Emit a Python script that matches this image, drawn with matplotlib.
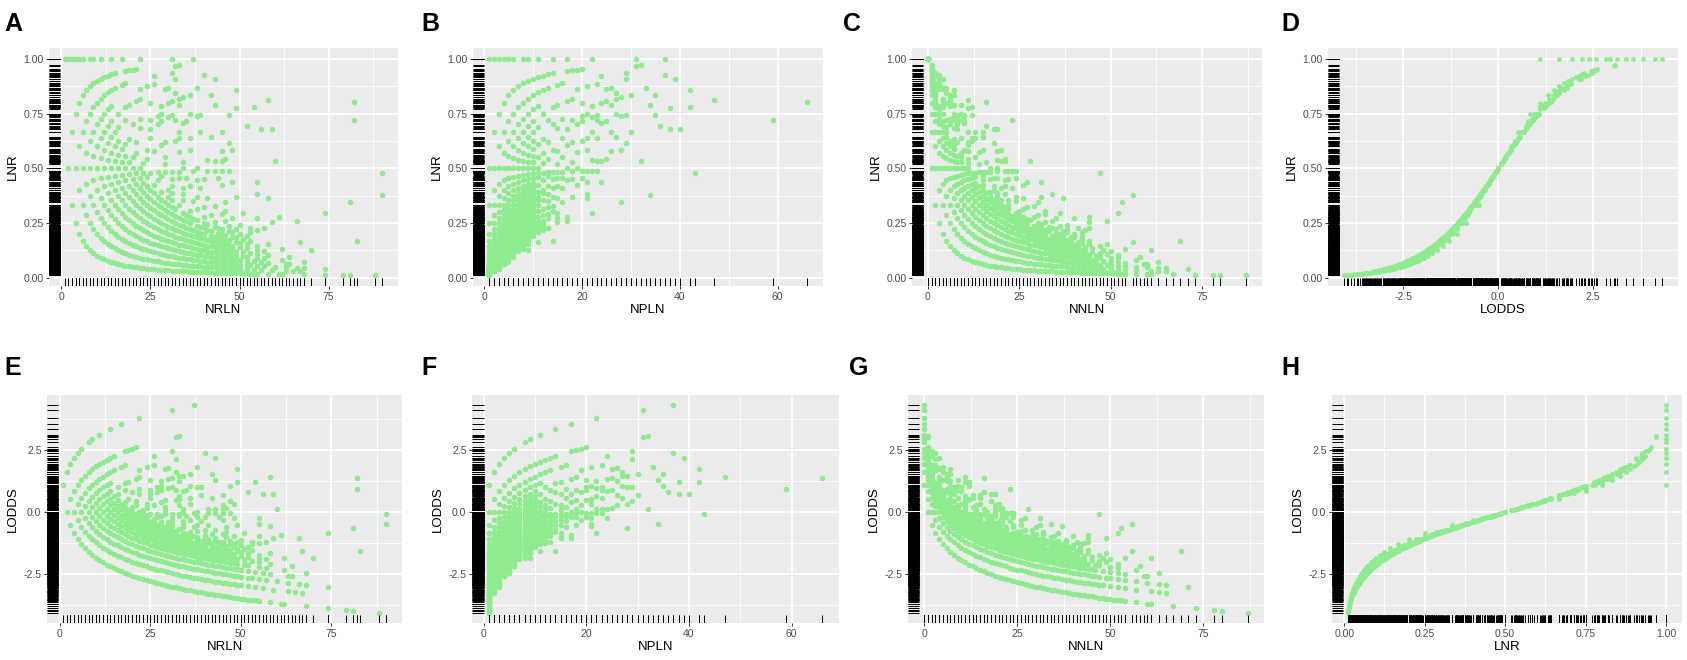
import numpy as np
import matplotlib
matplotlib.use("Agg")
import matplotlib.pyplot as plt
from matplotlib.ticker import FixedLocator, FormatStrFormatter

plt.rcParams['font.family'] = ['Liberation Sans', 'DejaVu Sans']
plt.rcParams['axes.unicode_minus'] = False

# ---------------- data: NRLN values observed for each NPLN value ----------------
NRLN_K01 = [1, 2, 3, 4, 5, 6, 7, 8, 9, 10, 11, 12, 13, 14, 15, 16, 17, 18, 19, 20, 21, 22, 23, 24, 25,
            26, 27, 28, 29, 30, 31, 32, 33, 34, 35, 36, 37, 38, 39, 40, 41, 42, 43, 44, 45, 46, 47, 48,
            49, 50, 51, 52, 53, 54, 55, 58, 61, 62, 68, 74, 79, 81, 88]
NRLN_K02 = [2, 3, 4, 5, 6, 7, 8, 9, 10, 11, 12, 13, 14, 15, 16, 17, 18, 19, 20, 21, 22, 23, 24, 25, 26,
            27, 28, 29, 30, 31, 32, 33, 34, 35, 36, 37, 38, 39, 40, 41, 42, 43, 44, 45, 46, 47, 48, 49,
            50, 52, 54, 56, 59, 63, 65, 67]
NRLN_K03 = [3, 4, 5, 6, 7, 8, 9, 10, 11, 12, 13, 14, 15, 16, 17, 18, 19, 20, 21, 22, 23, 24, 25, 26, 27,
            28, 29, 30, 31, 32, 33, 34, 35, 36, 37, 38, 39, 40, 41, 42, 43, 44, 45, 46, 47, 48, 49, 50,
            52, 53, 55, 57, 60, 63, 66, 68, 74]
NRLN_K04 = [4, 5, 6, 7, 8, 9, 10, 11, 12, 13, 14, 15, 16, 17, 18, 19, 20, 21, 22, 23, 24, 25, 26, 27, 28,
            29, 30, 31, 32, 33, 34, 35, 36, 37, 38, 39, 40, 41, 42, 43, 44, 45, 46, 47, 48, 49, 50, 52,
            54, 56, 58, 63, 64]
NRLN_K05 = [5, 6, 7, 8, 9, 10, 11, 12, 13, 14, 15, 16, 17, 18, 19, 20, 21, 22, 23, 24, 25, 26, 27, 28, 29,
            30, 31, 32, 33, 34, 35, 36, 37, 38, 39, 40, 41, 42, 43, 44, 45, 46, 47, 48, 49, 51, 52, 55,
            57, 62, 68]
NRLN_K06 = [6, 7, 8, 9, 10, 11, 12, 13, 14, 15, 16, 17, 18, 19, 20, 21, 22, 23, 24, 25, 26, 27, 28, 29, 30,
            31, 32, 33, 34, 35, 36, 37, 38, 39, 40, 41, 42, 43, 44, 45, 46, 47, 48, 49, 51, 53, 55, 58, 64]
NRLN_K07 = [8, 9, 10, 11, 12, 13, 14, 15, 16, 17, 18, 19, 20, 21, 22, 23, 24, 25, 26, 27, 28, 29, 30, 31,
            32, 33, 34, 35, 36, 37, 38, 39, 40, 41, 42, 43, 44, 45, 46, 47, 48, 50, 52, 55, 57]
NRLN_K08 = [8, 9, 10, 11, 12, 13, 14, 15, 16, 17, 18, 19, 20, 21, 22, 23, 24, 25, 26, 27, 28, 29, 30, 31,
            32, 33, 34, 35, 36, 37, 38, 39, 40, 42, 43, 44, 45, 46, 47, 49, 50, 52, 55, 62]
NRLN_K09 = [9, 10, 11, 12, 13, 14, 15, 16, 17, 18, 19, 20, 21, 22, 23, 24, 25, 26, 27, 28, 29, 30, 31, 32,
            33, 34, 35, 36, 38, 39, 40, 41, 42, 44, 45, 46, 48, 49, 51, 53, 58, 70]
NRLN_K10 = [11, 12, 13, 14, 15, 16, 17, 18, 19, 20, 21, 22, 23, 24, 25, 26, 27, 28, 29, 30, 31, 32, 34,
            35, 36, 37, 38, 40, 41, 43, 44, 45, 47, 48, 50, 52]
NRLN_K11 = [11, 12, 13, 14, 16, 18, 20, 22, 23, 24, 26, 28, 30, 31, 33, 36, 40, 43, 47, 49, 53, 67]
NRLN_K12 = [13, 14, 16, 19, 21, 23, 25, 27, 30, 31, 34, 38, 42, 46, 50, 53, 55]
NRLN_K13 = [14, 15, 18, 21, 24, 27, 28, 31, 34, 37, 40, 45, 48, 57]
NRLN_K14 = [14, 15, 18, 20, 24, 29, 31, 34, 38, 43, 46, 83]
NRLN_K15 = [17, 19, 22, 26, 29, 31, 33, 36, 41, 51, 55, 59]
NRLN_K16 = [18, 22, 25, 29, 33, 35, 39, 46]
NRLN_K17 = [17, 18, 21, 25, 28, 34, 38, 61, 66]
NRLN_K18 = [19, 22, 25, 29, 34, 37, 40, 49]
NRLN_K19 = [20, 22, 27, 33, 38, 45]
NRLN_K20 = [21, 25, 27, 28, 32, 41, 44]

# sparse cases with more than 20 positive nodes (paired lists)
NPLN_HIGH = [21, 21, 21, 21, 21, 21, 21, 21,
             22, 22, 22, 22, 22, 22, 22,
             23, 23, 23, 23, 23, 23,
             24, 24, 24, 24, 24,
             25, 25, 25, 25,
             26, 26, 26, 26,
             27, 27, 27, 27,
             28, 28, 28, 28,
             29, 29, 29, 29,
             30, 30, 31, 31, 32, 32, 33, 34, 34, 35, 35, 36, 37, 37,
             38, 38, 39, 40, 42, 42, 43, 47, 59, 66]
NRLN_HIGH = [24, 28, 33, 36, 43, 48, 55, 58,
             22, 28, 30, 33, 41, 45, 74,
             26, 31, 32, 36, 43, 47,
             26, 30, 34, 45, 55,
             29, 31, 35, 46,
             30, 33, 39, 45,
             32, 33, 36, 42,
             34, 38, 48, 81,
             31, 32, 39, 47,
             36, 45, 31, 32, 33, 60, 38, 43, 90, 42, 47, 52, 37, 40,
             49, 56, 43, 59, 49, 54, 90, 58, 82, 82]

GROUPS = [NRLN_K01, NRLN_K02, NRLN_K03, NRLN_K04, NRLN_K05, NRLN_K06, NRLN_K07, NRLN_K08,
          NRLN_K09, NRLN_K10, NRLN_K11, NRLN_K12, NRLN_K13, NRLN_K14, NRLN_K15, NRLN_K16,
          NRLN_K17, NRLN_K18, NRLN_K19, NRLN_K20]

nrln_list, npln_list = [], []
for k, lst in enumerate(GROUPS, start=1):
    nrln_list += lst
    npln_list += [k] * len(lst)
nrln_list += NRLN_HIGH
npln_list += NPLN_HIGH

NRLN = np.array(nrln_list, dtype=float)
NPLN = np.array(npln_list, dtype=float)
NNLN = NRLN - NPLN
LNR = NPLN / NRLN
LODDS = np.log((NPLN + 0.5) / (NNLN + 0.5))

# ---------------- figure ----------------
W, H = 1687, 660
fig = plt.figure(figsize=(W / 100, H / 100), dpi=100)

GREEN = '#8EEC8E'
BG = '#EBEBEB'

TICKS = {
    'count25': ([0, 25, 50, 75], [12.5, 37.5, 62.5, 87.5], '%d'),
    'count20': ([0, 20, 40, 60], [10, 30, 50], '%d'),
    'lnr': ([0, 0.25, 0.5, 0.75, 1.0], [0.125, 0.375, 0.625, 0.875, 1.125], '%.2f'),
    'lodds': ([-2.5, 0, 2.5], [-3.75, -1.25, 1.25, 3.75], '%.1f'),
}


def expand(v):
    lo, hi = float(np.min(v)), float(np.max(v))
    pad = 0.05 * (hi - lo)
    return lo - pad, hi + pad


def panel(box, x, y, xlabel, ylabel, xt, yt, letter, lxy, size=16):
    l, t, r, b = box
    ax = fig.add_axes([l / W, 1 - b / H, (r - l) / W, (b - t) / H])
    ax.set_facecolor(BG)
    for s in ax.spines.values():
        s.set_visible(False)
    ax.set_xlim(*expand(x))
    ax.set_ylim(*expand(y))
    xmaj, xmin, xf = TICKS[xt]
    ymaj, ymin, yf = TICKS[yt]
    ax.xaxis.set_major_locator(FixedLocator(xmaj))
    ax.xaxis.set_minor_locator(FixedLocator(xmin))
    ax.yaxis.set_major_locator(FixedLocator(ymaj))
    ax.yaxis.set_minor_locator(FixedLocator(ymin))
    ax.xaxis.set_major_formatter(FormatStrFormatter(xf))
    ax.yaxis.set_major_formatter(FormatStrFormatter(yf))
    ax.set_axisbelow(True)
    ax.grid(which='major', color='white', lw=1.2)
    ax.grid(which='minor', color='white', lw=0.6)
    ax.tick_params(which='major', length=2.5, width=0.7, color='#333333',
                   labelsize=7.5, labelcolor='#4D4D4D', pad=1.5)
    ax.tick_params(which='minor', length=0)
    ax.scatter(x, y, s=size, c=GREEN, linewidths=0, zorder=3)
    ax.vlines(x, 0, 0.035, transform=ax.get_xaxis_transform(), color='black', lw=0.7, zorder=4)
    ax.hlines(y, 0, 0.032, transform=ax.get_yaxis_transform(), color='black', lw=0.7, zorder=4)
    ax.set_xlabel(xlabel, fontsize=9.5, labelpad=2)
    ax.set_ylabel(ylabel, fontsize=9.5, labelpad=3)
    fig.text(lxy[0] / W, 1 - lxy[1] / H, letter, fontsize=18, fontweight='bold',
             ha='left', va='top')
    return ax


panel((49, 48, 398, 286), NRLN, LNR, 'NRLN', 'LNR', 'count25', 'lnr', 'A', (4, 12))
panel((473, 48, 823, 286), NPLN, LNR, 'NPLN', 'LNR', 'count20', 'lnr', 'B', (421, 12))
panel((912, 48, 1262, 286), NNLN, LNR, 'NNLN', 'LNR', 'count25', 'lnr', 'C', (843, 12))
panel((1328, 48, 1678, 286), LODDS, LNR, 'LODDS', 'LNR', 'lodds', 'lnr', 'D', (1281, 12), size=12)
panel((47, 395, 402, 623), NRLN, LODDS, 'NRLN', 'LODDS', 'count25', 'lodds', 'E', (4, 356))
panel((472, 395, 839, 623), NPLN, LODDS, 'NPLN', 'LODDS', 'count20', 'lodds', 'F', (421, 356))
panel((908, 395, 1264, 623), NNLN, LODDS, 'NNLN', 'LODDS', 'count25', 'lodds', 'G', (849, 356))
panel((1332, 395, 1682, 623), LNR, LODDS, 'LNR', 'LODDS', 'lnr', 'lodds', 'H', (1281, 356), size=12)

fig.savefig('out.png', dpi=100, facecolor='white')
